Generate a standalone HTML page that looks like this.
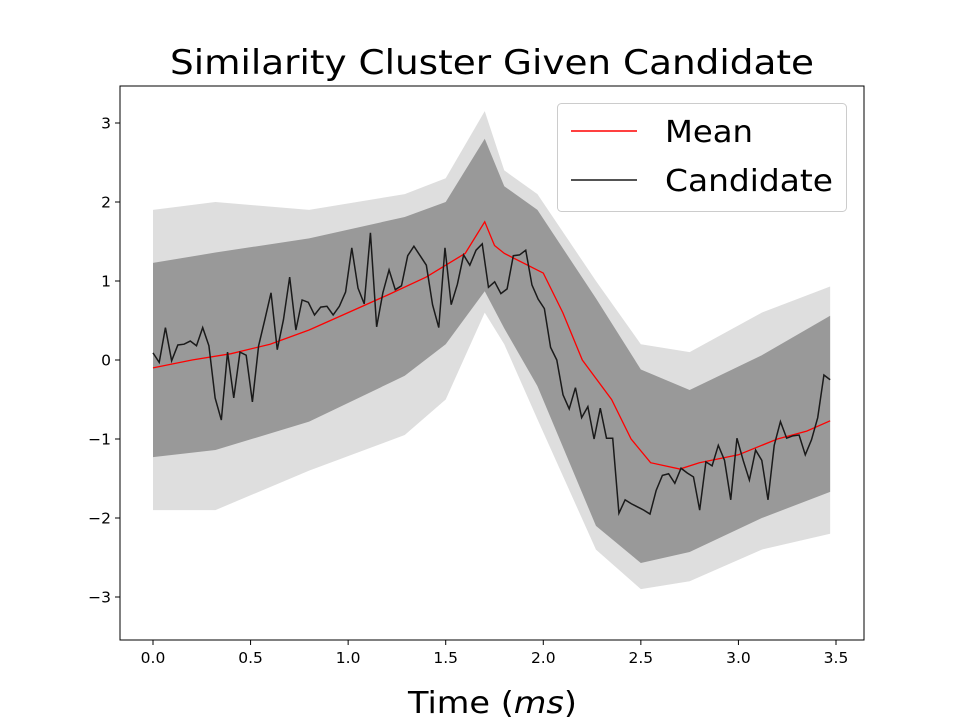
<!DOCTYPE html>
<html><head><meta charset="utf-8"><style>
body{margin:0;background:#fff;}
svg{display:block;font-family:"DejaVu Sans","Liberation Sans",sans-serif;}
</style></head><body>
<div style="position:relative;width:960px;height:720px">
<svg id="chart" width="960" height="720" style="position:absolute;left:0;top:0"></svg>
<script>
const xTicks=[0,0.5,1.0,1.5,2.0,2.5,3.0,3.5];
const xTickLabels=["0.0","0.5","1.0","1.5","2.0","2.5","3.0","3.5"];
const yTicks=[-3,-2,-1,0,1,2,3];
const yTickLabels=["\u22123","\u22122","\u22121","0","1","2","3"];
const bandT=[0,0.32,0.8,1.29,1.5,1.7,1.8,1.97,2.27,2.5,2.75,3.12,3.47];
const coreUpper=[1.23,1.36,1.54,1.81,2.0,2.8,2.2,1.9,0.78,-0.12,-0.38,0.06,0.56];
const coreLower=[-1.23,-1.14,-0.78,-0.2,0.2,0.87,0.4,-0.33,-2.1,-2.57,-2.43,-2.0,-1.67];
const outerUpper=[1.9,2.0,1.9,2.1,2.3,3.15,2.4,2.1,1.0,0.2,0.1,0.6,0.93];
const outerLower=[-1.9,-1.9,-1.4,-0.95,-0.5,0.6,0.2,-0.75,-2.4,-2.9,-2.8,-2.4,-2.2];
const meanT=[0,0.2,0.4,0.6,0.8,1.0,1.2,1.4,1.5,1.6,1.7,1.75,1.8,2.0,2.1,2.2,2.35,2.45,2.55,2.7,2.8,3.0,3.2,3.35,3.47];
const meanV=[-0.1,0.0,0.08,0.2,0.38,0.6,0.82,1.05,1.2,1.35,1.75,1.45,1.35,1.1,0.6,0.0,-0.5,-1.0,-1.3,-1.38,-1.3,-1.2,-1.0,-0.9,-0.77];
const candV=[0.09,-0.03,0.41,-0.01,0.19,0.2,0.24,0.18,0.41,0.18,-0.48,-0.76,0.1,-0.48,0.1,0.06,-0.53,0.18,0.51,0.85,0.13,0.51,1.05,0.38,0.76,0.73,0.57,0.67,0.68,0.57,0.68,0.86,1.42,0.91,0.71,1.61,0.42,0.85,1.14,0.89,0.94,1.32,1.44,1.32,1.2,0.7,0.41,1.42,0.7,0.96,1.33,1.2,1.39,1.47,0.92,0.99,0.84,0.9,1.32,1.33,1.39,0.95,0.77,0.65,0.16,0,-0.44,-0.62,-0.35,-0.73,-0.59,-1,-0.61,-0.99,-0.99,-1.94,-1.77,-1.82,-1.86,-1.9,-1.95,-1.65,-1.46,-1.44,-1.56,-1.37,-1.43,-1.48,-1.9,-1.29,-1.34,-1.08,-1.27,-1.77,-0.99,-1.27,-1.52,-1.14,-1.27,-1.77,-1.08,-0.78,-0.99,-0.96,-0.95,-1.2,-1.01,-0.73,-0.19,-0.25];
const candTmax=3.47;

const NS="http://www.w3.org/2000/svg";
const svg=document.getElementById('chart');
const L=120,R=864,T=86,B=640;
const xs=t=>153+t*195.14;
const ys=v=>360-v*79;
function mk(tag,attrs,parent){const e=document.createElementNS(NS,tag);for(const k in attrs)e.setAttribute(k,attrs[k]);(parent||svg).appendChild(e);return e;}
const cp=mk('clipPath',{id:'clip'});mk('rect',{x:L,y:T,width:R-L,height:B-T},cp);
const g=mk('g',{'clip-path':'url(#clip)'});

function band(up,lo,fill,name){
  let d='M'+bandT.map((t,i)=>xs(t)+','+ys(up[i])).join('L');
  for(let i=bandT.length-1;i>=0;i--)d+='L'+xs(bandT[i])+','+ys(lo[i]);
  const p=mk('path',{d:d+'Z',fill:fill,stroke:'none'},g);
  
  
}
band(outerUpper,outerLower,'#dedede','trace-band-outer');
band(coreUpper,coreLower,'#999999','trace-band-core');

const mp=mk('polyline',{points:meanT.map((t,i)=>xs(t)+','+ys(meanV[i])).join(' '),fill:'none',stroke:'#ff0000','stroke-width':1.3},g);


const n=candV.length;
const cl=mk('polyline',{points:candV.map((v,i)=>xs(i*candTmax/(n-1))+','+ys(v)).join(' '),fill:'none',stroke:'#1a1a1a','stroke-width':1.5},g);



const frame=mk('rect',{x:L,y:T,width:R-L,height:B-T,fill:'none',stroke:'#000','stroke-width':1});



xTicks.forEach((t,i)=>{
  mk('line',{x1:xs(t),x2:xs(t),y1:B,y2:B+5,stroke:'#000'});
  const tx=mk('text',{x:xs(t),y:B+23,'text-anchor':'middle','font-size':15.5});
  tx.textContent=xTickLabels[i];
  
  
});
yTicks.forEach((v,i)=>{
  mk('line',{x1:L-5,x2:L,y1:ys(v),y2:ys(v),stroke:'#000'});
  const tx=mk('text',{x:L-9,y:ys(v)+5.5,'text-anchor':'end','font-size':15.5});
  tx.textContent=yTickLabels[i];
  
  
});
</script>
<svg width="960" height="720" style="position:absolute;left:0;top:0">
<text x="170" y="74" font-size="34" textLength="644" lengthAdjust="spacingAndGlyphs">Similarity Cluster Given Candidate</text>
<text x="408" y="713" font-size="30" textLength="169" lengthAdjust="spacingAndGlyphs">Time (<tspan font-style="italic">ms</tspan>)</text>
<g>
<rect x="557.5" y="103.5" width="289" height="108" rx="4" fill="#fff" fill-opacity="0.8" stroke="#ccc"/>
<g><line x1="571" x2="637" y1="131" y2="131" stroke="#f00" stroke-width="1.5"/><text x="665" y="142" font-size="30" textLength="88" lengthAdjust="spacingAndGlyphs">Mean</text></g>
<g><line x1="571" x2="637" y1="180" y2="180" stroke="#1a1a1a" stroke-width="1.5"/><text x="665" y="191" font-size="30" textLength="168" lengthAdjust="spacingAndGlyphs">Candidate</text></g>
</g>
</svg>
</div>
</body></html>
